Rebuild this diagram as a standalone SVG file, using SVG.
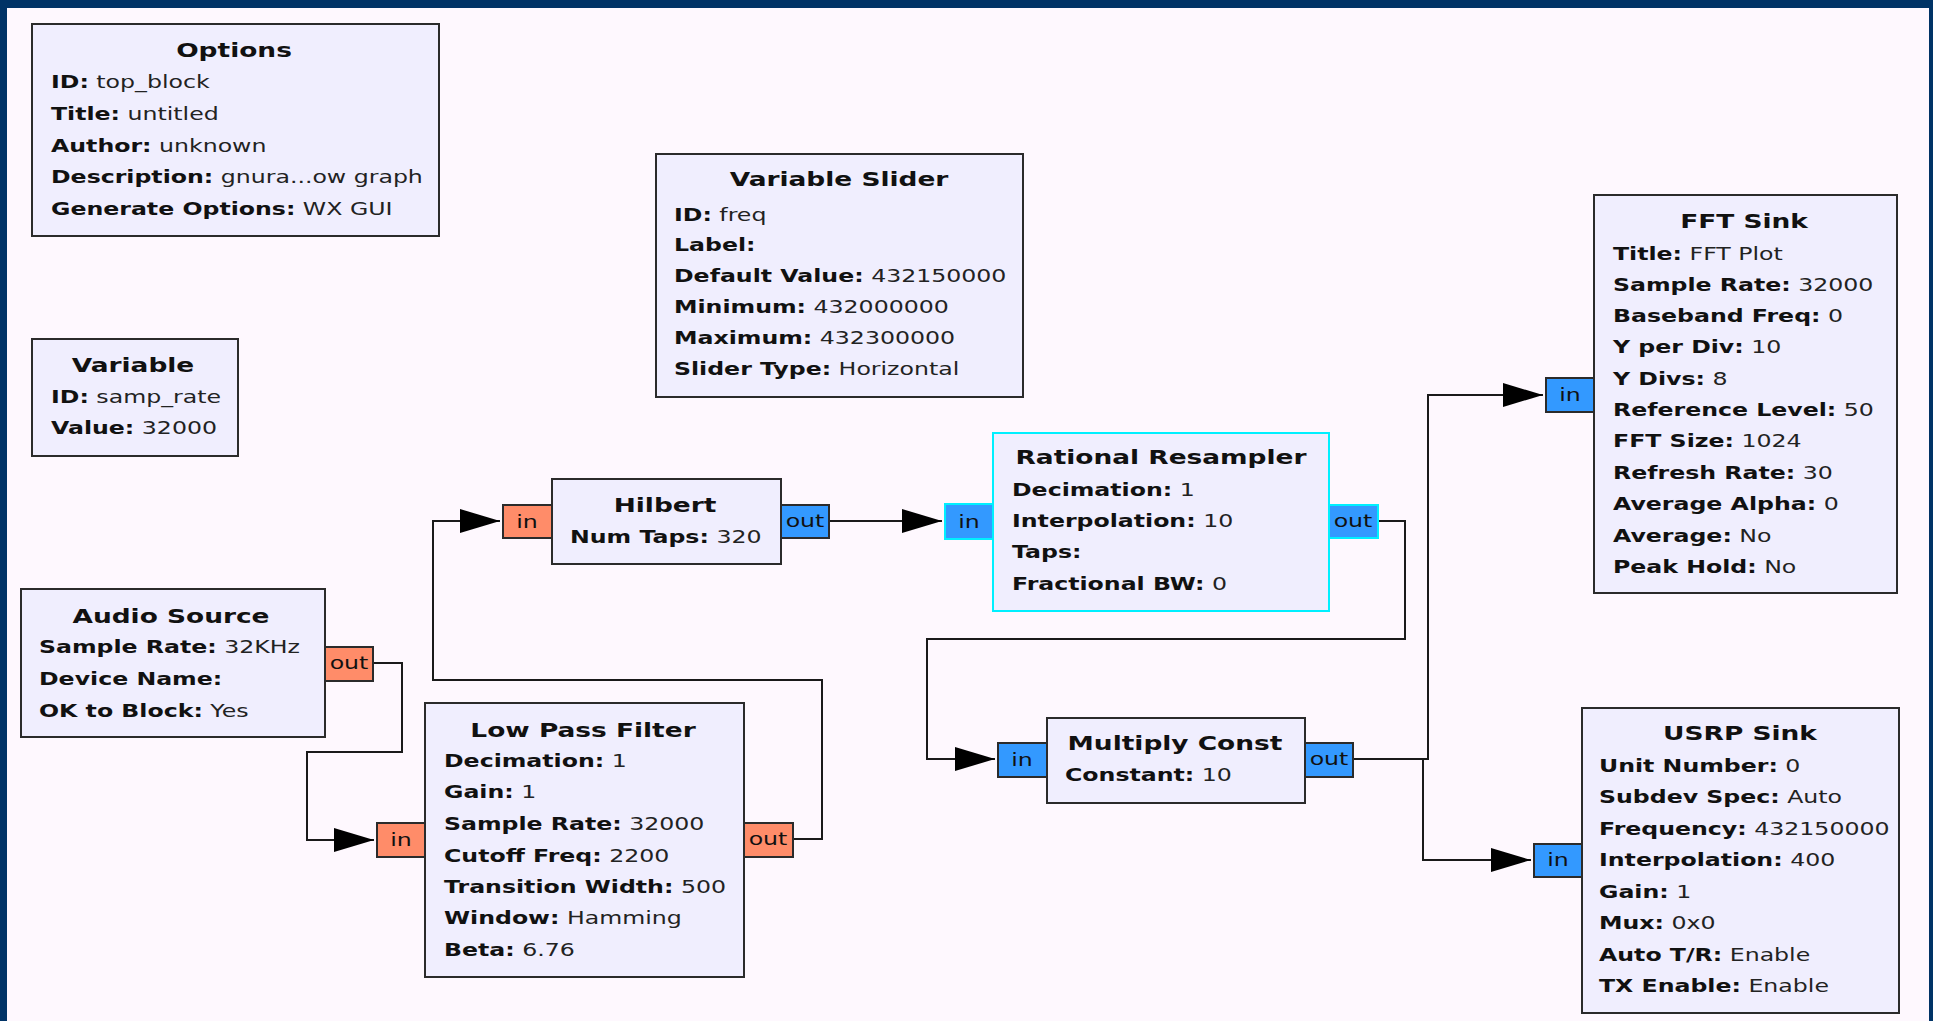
<svg xmlns="http://www.w3.org/2000/svg" width="1933" height="1021" viewBox="0 0 1933 1021">
<style>
.box{fill:#F0EEFE;stroke:#2b2b2b;stroke-width:2}
.sel{stroke:#00F0FF}
.pf{fill:#FF8C69;stroke:#2b2b2b;stroke-width:2}
.pc{fill:#3399FF;stroke:#2b2b2b;stroke-width:2}
.pcs{fill:#3399FF;stroke:#00F0FF;stroke-width:2}
.t{font-family:"DejaVu Sans",sans-serif;font-size:19px;font-weight:bold;text-anchor:middle;fill:#111}
.p{font-family:"DejaVu Sans",sans-serif;font-size:17px;fill:#222}
.k{font-weight:bold;fill:#111}
.pl{font-family:"DejaVu Sans",sans-serif;font-size:17px;text-anchor:middle;fill:#111}
.w{fill:none;stroke:#1a1a1a;stroke-width:2}
</style>
<defs>
<marker id="arr" markerUnits="userSpaceOnUse" markerWidth="42" markerHeight="26" refX="40" refY="12" orient="auto" viewBox="0 0 42 26">
<path d="M0,0 L40,12 L0,24 Z" fill="#000"/>
</marker>
</defs>
<rect x="0" y="0" width="1933" height="1021" fill="#003366"/>
<rect x="7" y="8" width="1922" height="1013" fill="#FEF8FE"/>

<g id="connectors">
<path class="w" d="M373,663 H402 V752 H307 V840 H374" marker-end="url(#arr)"/>
<path class="w" d="M793,839 H822 V680 H433 V521 H500" marker-end="url(#arr)"/>
<path class="w" d="M829,521 H942" marker-end="url(#arr)"/>
<path class="w" d="M1378,521 H1405 V639 H927 V759 H995" marker-end="url(#arr)"/>
<path class="w" d="M1353,759 H1428 V395 H1543" marker-end="url(#arr)"/>
<path class="w" d="M1353,759 H1423 V860 H1531" marker-end="url(#arr)"/>
</g>

<g id="options">
<rect class="box" x="32" y="24" width="407" height="212"/>
<text class="t" transform="translate(234,57) scale(1.39,1)">Options</text>
<text class="p" transform="translate(51,88) scale(1.39,1)"><tspan class="k">ID:</tspan> top_block</text>
<text class="p" transform="translate(51,120) scale(1.39,1)"><tspan class="k">Title:</tspan> untitled</text>
<text class="p" transform="translate(51,152) scale(1.39,1)"><tspan class="k">Author:</tspan> unknown</text>
<text class="p" transform="translate(51,183) scale(1.39,1)"><tspan class="k">Description:</tspan> gnura...ow graph</text>
<text class="p" transform="translate(51,215) scale(1.39,1)"><tspan class="k">Generate Options:</tspan> WX GUI</text>
</g>

<g id="variable">
<rect class="box" x="32" y="339" width="206" height="117"/>
<text class="t" transform="translate(133,372) scale(1.39,1)">Variable</text>
<text class="p" transform="translate(51,403) scale(1.39,1)"><tspan class="k">ID:</tspan> samp_rate</text>
<text class="p" transform="translate(51,434) scale(1.39,1)"><tspan class="k">Value:</tspan> 32000</text>
</g>

<g id="variable_slider">
<rect class="box" x="656" y="154" width="367" height="243"/>
<text class="t" transform="translate(839,186) scale(1.39,1)">Variable Slider</text>
<text class="p" transform="translate(674,221) scale(1.39,1)"><tspan class="k">ID:</tspan> freq</text>
<text class="p" transform="translate(674,251) scale(1.39,1)"><tspan class="k">Label:</tspan></text>
<text class="p" transform="translate(674,282) scale(1.39,1)"><tspan class="k">Default Value:</tspan> 432150000</text>
<text class="p" transform="translate(674,313) scale(1.39,1)"><tspan class="k">Minimum:</tspan> 432000000</text>
<text class="p" transform="translate(674,344) scale(1.39,1)"><tspan class="k">Maximum:</tspan> 432300000</text>
<text class="p" transform="translate(674,375) scale(1.39,1)"><tspan class="k">Slider Type:</tspan> Horizontal</text>
</g>

<g id="fft_sink">
<rect class="box" x="1594" y="195" width="303" height="398"/>
<rect class="pc" x="1546" y="378" width="48" height="34"/>
<text class="pl" transform="translate(1570,401) scale(1.39,1)">in</text>
<text class="t" transform="translate(1744,228) scale(1.39,1)">FFT Sink</text>
<text class="p" transform="translate(1613,260) scale(1.39,1)"><tspan class="k">Title:</tspan> FFT Plot</text>
<text class="p" transform="translate(1613,291) scale(1.39,1)"><tspan class="k">Sample Rate:</tspan> 32000</text>
<text class="p" transform="translate(1613,322) scale(1.39,1)"><tspan class="k">Baseband Freq:</tspan> 0</text>
<text class="p" transform="translate(1613,353) scale(1.39,1)"><tspan class="k">Y per Div:</tspan> 10</text>
<text class="p" transform="translate(1613,385) scale(1.39,1)"><tspan class="k">Y Divs:</tspan> 8</text>
<text class="p" transform="translate(1613,416) scale(1.39,1)"><tspan class="k">Reference Level:</tspan> 50</text>
<text class="p" transform="translate(1613,447) scale(1.39,1)"><tspan class="k">FFT Size:</tspan> 1024</text>
<text class="p" transform="translate(1613,479) scale(1.39,1)"><tspan class="k">Refresh Rate:</tspan> 30</text>
<text class="p" transform="translate(1613,510) scale(1.39,1)"><tspan class="k">Average Alpha:</tspan> 0</text>
<text class="p" transform="translate(1613,542) scale(1.39,1)"><tspan class="k">Average:</tspan> No</text>
<text class="p" transform="translate(1613,573) scale(1.39,1)"><tspan class="k">Peak Hold:</tspan> No</text>
</g>

<g id="audio_source">
<rect class="box" x="21" y="589" width="304" height="148"/>
<rect class="pf" x="325" y="647" width="48" height="34"/>
<text class="pl" transform="translate(349,669) scale(1.39,1)">out</text>
<text class="t" transform="translate(171,623) scale(1.39,1)">Audio Source</text>
<text class="p" transform="translate(39,653) scale(1.39,1)"><tspan class="k">Sample Rate:</tspan> 32KHz</text>
<text class="p" transform="translate(39,685) scale(1.39,1)"><tspan class="k">Device Name:</tspan></text>
<text class="p" transform="translate(39,717) scale(1.39,1)"><tspan class="k">OK to Block:</tspan> Yes</text>
</g>

<g id="hilbert">
<rect class="box" x="552" y="479" width="229" height="85"/>
<rect class="pf" x="503" y="505" width="49" height="33"/>
<text class="pl" transform="translate(527,528) scale(1.39,1)">in</text>
<rect class="pc" x="781" y="505" width="48" height="33"/>
<text class="pl" transform="translate(805,527) scale(1.39,1)">out</text>
<text class="t" transform="translate(665,512) scale(1.39,1)">Hilbert</text>
<text class="p" transform="translate(570,543) scale(1.39,1)"><tspan class="k">Num Taps:</tspan> 320</text>
</g>

<g id="low_pass_filter">
<rect class="box" x="425" y="703" width="319" height="274"/>
<rect class="pf" x="377" y="823" width="48" height="34"/>
<text class="pl" transform="translate(401,846) scale(1.39,1)">in</text>
<rect class="pf" x="744" y="823" width="49" height="34"/>
<text class="pl" transform="translate(768,845) scale(1.39,1)">out</text>
<text class="t" transform="translate(583,737) scale(1.39,1)">Low Pass Filter</text>
<text class="p" transform="translate(444,767) scale(1.39,1)"><tspan class="k">Decimation:</tspan> 1</text>
<text class="p" transform="translate(444,798) scale(1.39,1)"><tspan class="k">Gain:</tspan> 1</text>
<text class="p" transform="translate(444,830) scale(1.39,1)"><tspan class="k">Sample Rate:</tspan> 32000</text>
<text class="p" transform="translate(444,862) scale(1.39,1)"><tspan class="k">Cutoff Freq:</tspan> 2200</text>
<text class="p" transform="translate(444,893) scale(1.39,1)"><tspan class="k">Transition Width:</tspan> 500</text>
<text class="p" transform="translate(444,924) scale(1.39,1)"><tspan class="k">Window:</tspan> Hamming</text>
<text class="p" transform="translate(444,956) scale(1.39,1)"><tspan class="k">Beta:</tspan> 6.76</text>
</g>

<g id="rational_resampler">
<rect class="box sel" x="993" y="433" width="336" height="178"/>
<rect class="pcs" x="945" y="504" width="48" height="35"/>
<text class="pl" transform="translate(969,528) scale(1.39,1)">in</text>
<rect class="pcs" x="1329" y="505" width="49" height="33"/>
<text class="pl" transform="translate(1353,527) scale(1.39,1)">out</text>
<text class="t" transform="translate(1161,464) scale(1.39,1)">Rational Resampler</text>
<text class="p" transform="translate(1012,496) scale(1.39,1)"><tspan class="k">Decimation:</tspan> 1</text>
<text class="p" transform="translate(1012,527) scale(1.39,1)"><tspan class="k">Interpolation:</tspan> 10</text>
<text class="p" transform="translate(1012,558) scale(1.39,1)"><tspan class="k">Taps:</tspan></text>
<text class="p" transform="translate(1012,590) scale(1.39,1)"><tspan class="k">Fractional BW:</tspan> 0</text>
</g>

<g id="multiply_const">
<rect class="box" x="1047" y="718" width="258" height="85"/>
<rect class="pc" x="998" y="743" width="49" height="34"/>
<text class="pl" transform="translate(1022,766) scale(1.39,1)">in</text>
<rect class="pc" x="1305" y="743" width="48" height="34"/>
<text class="pl" transform="translate(1329,765) scale(1.39,1)">out</text>
<text class="t" transform="translate(1175,750) scale(1.39,1)">Multiply Const</text>
<text class="p" transform="translate(1065,781) scale(1.39,1)"><tspan class="k">Constant:</tspan> 10</text>
</g>

<g id="usrp_sink">
<rect class="box" x="1582" y="708" width="317" height="305"/>
<rect class="pc" x="1534" y="844" width="48" height="33"/>
<text class="pl" transform="translate(1558,866) scale(1.39,1)">in</text>
<text class="t" transform="translate(1740,740) scale(1.39,1)">USRP Sink</text>
<text class="p" transform="translate(1599,772) scale(1.39,1)"><tspan class="k">Unit Number:</tspan> 0</text>
<text class="p" transform="translate(1599,803) scale(1.39,1)"><tspan class="k">Subdev Spec:</tspan> Auto</text>
<text class="p" transform="translate(1599,835) scale(1.39,1)"><tspan class="k">Frequency:</tspan> 432150000</text>
<text class="p" transform="translate(1599,866) scale(1.39,1)"><tspan class="k">Interpolation:</tspan> 400</text>
<text class="p" transform="translate(1599,898) scale(1.39,1)"><tspan class="k">Gain:</tspan> 1</text>
<text class="p" transform="translate(1599,929) scale(1.39,1)"><tspan class="k">Mux:</tspan> 0x0</text>
<text class="p" transform="translate(1599,961) scale(1.39,1)"><tspan class="k">Auto T/R:</tspan> Enable</text>
<text class="p" transform="translate(1599,992) scale(1.39,1)"><tspan class="k">TX Enable:</tspan> Enable</text>
</g>
</svg>
